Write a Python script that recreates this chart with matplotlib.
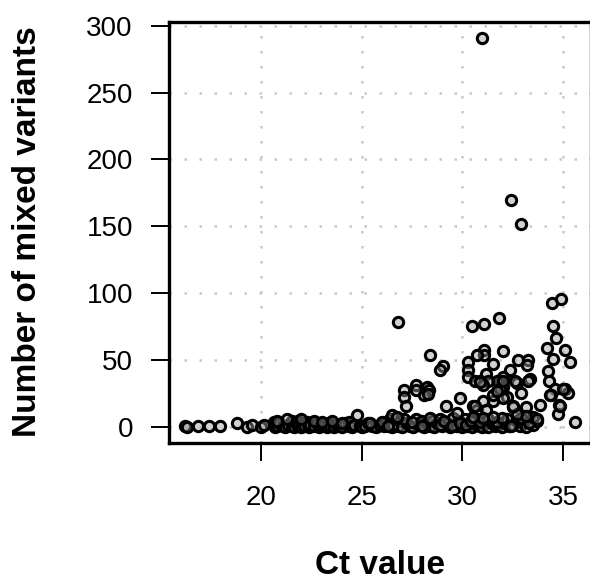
import matplotlib
matplotlib.use("Agg")
import matplotlib.pyplot as plt

plt.rcParams['font.family'] = ['Liberation Sans', 'DejaVu Sans']

# Ct value and number of mixed variants
ct_high = [31.0, 32.4, 32.9, 26.8, 34.45, 34.9, 30.5, 31.09, 31.82, 34.52, 34.64, 34.22, 35.1, 34.5,
           35.33, 32.04, 31.09, 31.09, 30.71, 30.26, 30.3, 30.3, 31.54, 32.76, 33.25, 33.23, 32.37,
           34.24, 34.29, 34.59, 35.08, 35.26, 34.4, 34.83, 34.77, 35.61, 28.41, 29.06, 28.91, 27.1,
           27.1, 27.22, 27.7, 27.68, 28.23, 28.33, 28.1, 28.3, 29.88, 29.2, 29.72, 33.86, 33.16, 32.5,
           32.2, 32.04, 31.54, 31.54, 31.04, 30.55, 30.71, 31.2, 32.9, 32.7, 32.6, 33.36, 33.28, 32.04,
           31.87, 31.7, 31.2, 31.29, 30.88, 30.63, 31.04, 32.04, 31.87, 31.7, 31.95, 33.14, 32.7, 33.7,
           31.5, 30.55, 31.04, 32.04, 30.88, 35.02, 30.63, 34.36, 32.53, 34.85]
mixed_high = [291, 170, 152, 79, 93, 96, 76, 77, 82, 76, 67, 59, 58, 51,
              49, 57, 58, 54, 54, 49, 43, 38, 47, 50, 50, 46.5, 43,
              42, 35, 29, 29, 26, 24, 17, 10, 4, 54, 46, 43, 28,
              23, 16, 31.6, 28, 30, 28, 24, 25, 22, 16, 11, 17, 15, 15,
              23, 22, 20, 24, 20, 16, 13, 13, 26, 33, 35, 36.5, 35, 38,
              35, 35, 40, 35, 35, 34.6, 32, 30, 29, 27, 7, 8.5, 10, 6,
              8, 8, 7, 35, 34, 29, 16, 24, 16, 16]

ct_low = [16.19, 16.31, 16.85, 17.38, 17.96, 18.79, 19.29, 19.54, 19.98, 20.12,
          20.65, 20.65, 20.7, 20.78, 20.9, 21.08, 21.2, 21.35, 21.52, 21.52, 21.64, 21.75, 21.85,
          21.85, 22.0, 22.07, 22.15, 22.27, 22.35, 22.43, 22.6, 22.76, 22.85, 22.96, 23.1, 23.26,
          23.35, 23.43, 23.6, 23.76, 23.9, 24.01, 24.15, 24.34, 24.34, 24.5, 24.6, 24.75, 24.9,
          25.0, 25.17, 25.3, 25.5, 25.7, 25.9, 26.08, 26.2, 26.41, 26.5, 26.57, 26.7, 26.82, 26.9,
          27.0, 27.24, 27.4, 27.55, 27.7, 27.85, 27.98, 28.1, 28.23, 28.39, 28.5, 28.6, 28.75,
          28.89, 29.0, 29.22, 29.4, 29.55, 29.65, 29.75, 29.85, 29.97, 30.13, 30.25, 30.38, 30.5,
          30.63, 30.75, 30.88, 31.0, 31.15, 31.29, 31.46, 31.6, 31.79, 31.95, 32.12, 32.3, 32.53,
          32.7, 32.86, 33.0, 33.16, 33.36, 33.5, 33.69,
          20.8, 21.3, 22.0, 22.6, 23.0, 23.5, 24.0, 25.4, 26.0, 26.3, 27.1, 27.5, 28.0, 28.4,
          28.9, 29.1, 29.5, 29.9, 30.2, 30.45, 30.9, 31.3, 31.7, 32.2, 32.4, 32.9, 33.3, 33.5,
          26.5, 26.75]
mixed_low = [1, 0, 1, 1, 1, 3, 0, 2, 0, 2,
             2, 4, 0, 1, 3, 1, 0, 2, 5, 1, 0, 3, 5,
             1, 0, 3, 1, 4, 0, 2, 1, 3, 0, 1, 2, 0,
             3, 1, 0, 2, 1, 0, 3, 1, 4, 0, 2, 9, 1,
             0, 1, 3, 1, 0, 2, 1, 4, 6, 0, 2, 7, 1, 5,
             0, 3, 1, 0, 6, 2, 5, 0, 3, 1, 5, 0, 3,
             6, 1, 3, 0, 7, 2, 1, 5, 0, 6, 1, 3, 0,
             6, 2, 1, 0, 4, 0, 3, 1, 2, 0, 3, 1, 2,
             5, 1, 3, 0, 4, 2, 5,
             5, 6, 6, 5, 4, 5, 3, 3, 4, 1, 6, 4, 1, 7,
             2, 5, 1, 3, 2, 5, 4, 6, 4, 6, 1, 7, 3, 8,
             9, 8]

x_ticks = [20, 25, 30, 35]
y_ticks = [0, 50, 100, 150, 200, 250, 300]

ct = ct_low + ct_high
mixed = mixed_low + mixed_high

fig = plt.figure(figsize=(5.9, 5.81), dpi=100)
ax = fig.add_axes([169 / 590, 138 / 581, 421.8 / 590, 421 / 581])

ax.scatter(ct, mixed, s=55, facecolors=(0.6, 0.6, 0.6, 0.45), edgecolors='black',
           linewidths=2.2, zorder=3, clip_on=False)

xmin, xmax = min(ct), max(ct)
ymin, ymax = min(mixed), max(mixed)
ax.set_xlim(xmin - 0.04 * (xmax - xmin), xmax + 0.04 * (xmax - xmin))
ax.set_ylim(ymin - 0.04 * (ymax - ymin), ymax + 0.04 * (ymax - ymin))

ax.set_xticks(x_ticks)
ax.set_yticks(y_ticks)
ax.grid(True, color='#c8c8c8', linestyle=(0, (1, 5)), linewidth=1.8, zorder=0)
ax.set_axisbelow(True)

ax.tick_params(axis='both', direction='out', length=13, width=1.4, labelsize=20, colors='black')
ax.tick_params(axis='x', pad=17)
ax.tick_params(axis='y', pad=13)
for sp in ax.spines.values():
    sp.set_linewidth(2.4)
    sp.set_color('black')

fig.text(28 / 590, 1 - 232 / 581, 'Number of mixed variants', rotation=90, ha='center', va='center',
         fontsize=24, fontweight='bold')
fig.text(380 / 590, 1 - 565 / 581, 'Ct value', ha='center', va='center',
         fontsize=24, fontweight='bold')

fig.savefig('out.png', dpi=100)
